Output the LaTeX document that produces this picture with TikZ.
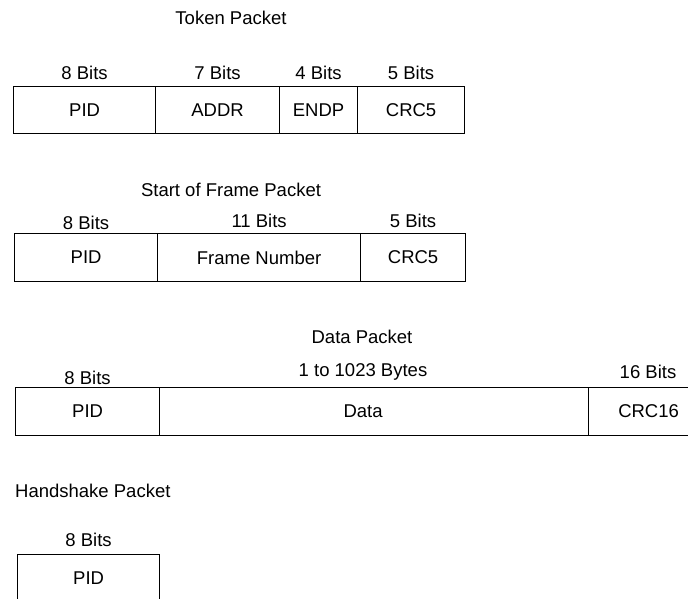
\documentclass[tikz,border=0pt]{standalone}
\usepackage{fontspec}
\setmainfont{Liberation Sans}
\begin{document}
\begin{tikzpicture}[x=1pt,y=-1pt,
  txt/.style={font=\fontsize{18.5}{20}\selectfont},
  cell/.style={draw=black, line width=1.2pt, rectangle, anchor=north west, inner sep=0pt, txt},
  bits/.style={inner sep=0pt, txt},
  ttl/.style={inner sep=0pt, txt}]
\useasboundingbox (0,0) rectangle (688,598);
% Token packet
\node[ttl] (ttok) at (231,18) {Token Packet};
\node[cell, minimum width=142, minimum height=47] (tpid) at (13,86) {PID};
\node[cell, minimum width=124, minimum height=47] (taddr) at (155,86) {ADDR};
\node[cell, minimum width=78, minimum height=47] (tendp) at (279,86) {ENDP};
\node[cell, minimum width=107, minimum height=47] (tcrc) at (357,86) {CRC5};
\node[bits] (tb1) at (tpid.center |- 0,73) {8 Bits};
\node[bits] (tb2) at (taddr.center |- 0,73) {7 Bits};
\node[bits] (tb3) at (tendp.center |- 0,73) {4 Bits};
\node[bits] (tb4) at (tcrc.center |- 0,73) {5 Bits};
% Start of frame packet
\node[ttl] (tsof) at (231,190) {Start of Frame Packet};
\node[cell, minimum width=143, minimum height=48] (spid) at (14,233) {PID};
\node[cell, minimum width=203, minimum height=48] (sfn) at (157,233) {Frame Number};
\node[cell, minimum width=105, minimum height=48] (scrc) at (360,233) {CRC5};
\node[bits] (sb1) at (spid.center |- 0,223) {8 Bits};
\node[bits] (sb2) at (sfn.center |- 0,221) {11 Bits};
\node[bits] (sb3) at (scrc.center |- 0,221) {5 Bits};
% Data packet
\node[ttl] (tdat) at (362,337) {Data Packet};
\node[cell, minimum width=144, minimum height=48] (dpid) at (15,387) {PID};
\node[cell, minimum width=429, minimum height=48] (ddat) at (159,387) {\hspace*{-22pt}Data};
\node[cell, minimum width=120, minimum height=48] (dcrc) at (588,387) {CRC16};
\node[bits] (db1) at (dpid.center |- 0,378) {8 Bits};
\node[bits] (db2) at (363,372) {1 to 1023 Bytes};
\node[bits] (db3) at (648,372) {16 Bits};
% Handshake packet
\node[ttl, anchor=west] (thnd) at (15,491) {Handshake Packet};
\node[cell, minimum width=142, minimum height=48] (hpid) at (17,554) {PID};
\node[bits] (hb1) at (hpid.center |- 0,540) {8 Bits};
\end{tikzpicture}
\end{document}
